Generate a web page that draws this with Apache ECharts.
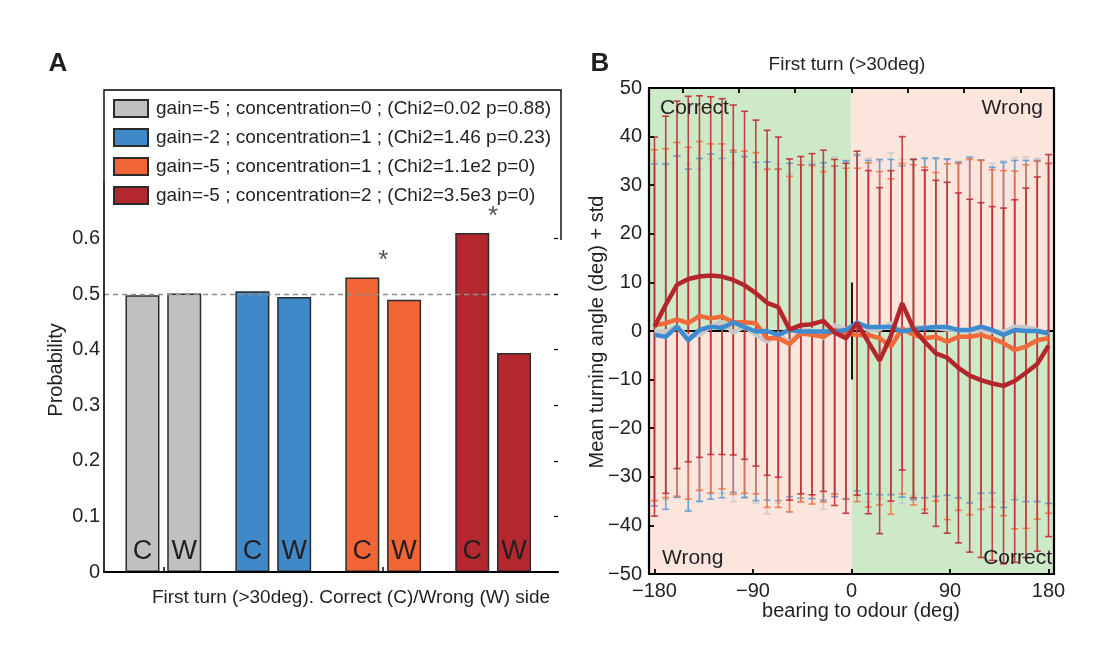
<!DOCTYPE html>
<html>
<head>
<meta charset="utf-8">
<script src="https://cdn.jsdelivr.net/npm/echarts@6/dist/echarts.min.js"></script>
<style>
    html, body { margin: 0; padding: 0; background: #fff; }
    #main { width: 1099px; height: 648px; }
</style>
</head>
<body>
<div id="main"></div>
<script>
// ---------- panel A : probability of first turn to correct / wrong side ----------
var conditions = [
    'gain=-5 ; concentration=0 ; (Chi2=0.02 p=0.88)',
    'gain=-2 ; concentration=1 ; (Chi2=1.46 p=0.23)',
    'gain=-5 ; concentration=1 ; (Chi2=1.1e2 p=0)',
    'gain=-5 ; concentration=2 ; (Chi2=3.5e3 p=0)'
];
var sides = ['C', 'W'];
var probCorrect = [0.498, 0.505, 0.530, 0.610];
var probWrong   = [0.501, 0.495, 0.490, 0.394];
var significant = [false, false, true, true];
var probTicks = [0, 0.1, 0.2, 0.3, 0.4, 0.5, 0.6];

// ---------- panel B : mean turning angle vs bearing ----------
var bearing = [-180, -169.7, -159.4, -149.1, -138.9, -128.6, -118.3, -108, -97.7, -87.4, -77.1, -66.9,
    -56.6, -46.3, -36, -25.7, -15.4, -5.1, 5.1, 15.4, 25.7, 36, 46.3, 56.6,
    66.9, 77.1, 87.4, 97.7, 108, 118.3, 128.6, 138.9, 149.1, 159.4, 169.7, 180];
var bearingTicks = [-180, -90, 0, 90, 180];
var topTicks = [-154.3, -102.9, -51.4, 0, 51.4, 102.9, 154.3];

var grayMean = [0, -0.1, 0.9, -1.2, -0.8, 0.9, 1.9, -0.3, 0.9, -0.8, -2.2, -0.5, -2.5, 0, 0.2, -1.5, 1.2, 0.3,
    1.2, 0.2, 0.3, 1.6, -0.1, 0.9, 0.6, 0.6, 0.3, 0.2, 0, 0.3, -0.1, -0.1, 0.9, 0.8, 0.2, -0.5];
var grayStd = [35.0, 34.6, 35.2, 35.6, 34.1, 34.4, 35.3, 34.8, 35.0, 34.6, 35.4, 34.9, 34.8, 35.0, 34.7, 35.2, 34.6, 34.9,
    34.8, 35.3, 34.7, 35.0, 35.4, 34.6, 35.1, 34.8, 35.0, 34.7, 35.2, 34.9, 34.6, 35.1, 34.8, 35.0, 35.3, 34.9];

var blueMean = [-0.8, -1.2, 0.9, -1.9, 0.2, 0.9, 0.6, 1.8, 0.8, -0.1, 0, -0.8, 0.2, -0.1, -0.1, -0.1, -0.1, 0.2,
    1.7, 0.8, 0.8, 0.8, -0.1, 0.3, 0.6, 0.8, 0.8, 0.2, 0.2, 0.9, 0.2, -0.8, 0.2, 0, 0, -0.5];
var blueStd = [35.2, 35.5, 35.1, 35.2, 35.3, 35.5, 34.9, 35.0, 35.1, 34.8, 34.8, 34.1, 34.3, 34.3, 34.4, 34.7, 34.0, 34.8,
    34.6, 34.3, 34.5, 34.5, 34.1, 35.0, 34.9, 34.8, 34.6, 34.5, 35.6, 34.3, 33.5, 35.5, 34.9, 35.1, 35.1, 35.0];

var orangeMean = [1.2, 1.6, 2.4, 1.6, 3.1, 2.6, 3.0, 1.8, 1.8, 1.6, -1.5, -1.5, -2.7, -0.5, -0.8, -1.2, 0.2, -0.5,
    -0.8, -0.8, -1.5, -3.2, 0.5, -0.8, -1.5, -1.2, -2.2, -1.2, -1.2, -0.8, -1.5, -2.5, -3.9, -3.2, -1.9, -1.5];
var orangeStd = [36.1, 35.9, 36.4, 36.2, 35.9, 35.9, 35.5, 35.4, 35.2, 35.1, 34.8, 34.8, 34.5, 34.7, 34.8, 34.0, 33.8, 34.0,
    34.3, 35.4, 34.3, 34.5, 34.0, 35.0, 35.2, 33.8, 36.6, 35.7, 36.6, 35.9, 34.7, 35.5, 36.8, 37.4, 36.8, 36.0];

var redMean = [0.9, 5.4, 9.5, 10.7, 11.2, 11.4, 11.2, 10.5, 9.4, 7.8, 5.8, 4.9, 0.3, 1.2, 1.4, 2.1, -0.3, -1.5,
    1.6, -2.3, -6.1, -1.0, 5.7, 0.5, -2.2, -4.6, -5.5, -7.6, -9.2, -10.1, -10.8, -11.3, -10.3, -8.6, -6.8, -3.0];
var redStd = [39.0, 38.8, 37.8, 37.6, 37.2, 36.8, 36.6, 36.0, 35.8, 35.6, 35.5, 35.0, 35.1, 34.7, 35.1, 35.1, 35.6, 36.0,
    35.4, 35.3, 35.6, 34.0, 34.3, 34.8, 35.3, 35.6, 36.1, 36.0, 36.3, 36.5, 36.4, 36.6, 37.3, 38.0, 38.5, 39.3];

var barColors  = ['#c0c0c0', '#3f89c9', '#f26536', '#b2282e'];
var lineColors = ['#c8c8c8', '#3f8bcf', '#f2693a', '#b3262c'];
var textColor = '#231f20';
var font = 'Liberation Sans, Arial, Helvetica, sans-serif';

function minusFmt(v){
    return v < 0 ? '\u2212' + Math.abs(v) : String(v);
}

//误差棒 (mean ± std) 自定义绘制
function errorBar(color, opacity){
    return function(params, api){
        var x = api.value(0);
        var lo = api.coord([x, api.value(1)]);
        var hi = api.coord([x, api.value(2)]);
        var half = 3.5;
        var style = { stroke: color, lineWidth: 1.6, opacity: opacity };
        return {
            type: 'group',
            children: [
                { type: 'line', shape: { x1: lo[0], y1: lo[1], x2: hi[0], y2: hi[1] }, style: style },
                { type: 'line', shape: { x1: lo[0] - half, y1: lo[1], x2: lo[0] + half, y2: lo[1] }, style: style },
                { type: 'line', shape: { x1: hi[0] - half, y1: hi[1], x2: hi[0] + half, y2: hi[1] }, style: style }
            ]
        };
    };
}

function pairs(xs, ys){
    var out = [];
    for (var i = 0; i < xs.length; i++) out.push([xs[i], ys[i]]);
    return out;
}
function errPairs(xs, m, s){
    var out = [];
    for (var i = 0; i < xs.length; i++) out.push([xs[i], m[i] - s[i], m[i] + s[i]]);
    return out;
}

var series = [];

//panel A 参考虚线 0.5
series.push({
    type: 'line', xAxisIndex: 0, yAxisIndex: 0, z: 1,
    data: [[1, 0.5]], showSymbol: false, lineStyle: { opacity: 0 },
    markLine: {
        silent: true, symbol: 'none', label: { show: false },
        lineStyle: { color: '#8f8f8f', type: [5, 4], width: 1.3 },
        data: [{ yAxis: 0.5 }]
    }
});

//panel A 柱状图，每个条件两根柱子 (C / W)
for (var k = 0; k < conditions.length; k++){
    series.push({
        name: conditions[k],
        type: 'bar', xAxisIndex: 0, yAxisIndex: 0, z: 2,
        barWidth: 34, barGap: '-100%',
        itemStyle: { color: barColors[k], borderColor: '#2b2b2b', borderWidth: 1.5 },
        label: {
            show: true, position: 'insideBottom', distance: 7,
            formatter: function(p){ return sides[p.dataIndex]; },
            fontSize: 27, color: textColor, fontFamily: font
        },
        data: [[k + 1 - 0.19, probCorrect[k]], [k + 1 + 0.19, probWrong[k]]]
    });
}

//显著性星号
var stars = [];
for (var g = 0; g < significant.length; g++){
    if (significant[g]) stars.push([g + 1, Math.max(probCorrect[g], probWrong[g]) + 0.03]);
}
series.push({
    type: 'scatter', xAxisIndex: 0, yAxisIndex: 0, z: 3,
    symbolSize: 1, itemStyle: { color: 'rgba(0,0,0,0)' },
    label: { show: true, position: 'inside', formatter: '*', fontSize: 26, color: textColor, fontFamily: font },
    data: stars
});

//panel B 背景象限
var green = '#cde9c8', pink = '#fce5dd';
series.push({
    type: 'line', xAxisIndex: 1, yAxisIndex: 2, z: 1,
    data: [[0, 0]], showSymbol: false, lineStyle: { opacity: 0 },
    markArea: {
        silent: true,
        data: [
            [{ xAxis: -185, yAxis: 0, itemStyle: { color: green } }, { xAxis: 0, yAxis: 50 }],
            [{ xAxis: 0, yAxis: 0, itemStyle: { color: pink } }, { xAxis: 185, yAxis: 50 }],
            [{ xAxis: -185, yAxis: -50, itemStyle: { color: pink } }, { xAxis: 0, yAxis: 0 }],
            [{ xAxis: 0, yAxis: -50, itemStyle: { color: green } }, { xAxis: 185, yAxis: 0 }]
        ]
    }
});
series.push({
    type: 'line', xAxisIndex: 1, yAxisIndex: 2, z: 3,
    data: [[0, 0]], showSymbol: false, lineStyle: { opacity: 0 },
    markLine: {
        silent: true, symbol: 'none', label: { show: false },
        lineStyle: { color: '#000', type: 'solid', width: 1.8 },
        data: [
            { yAxis: 0 },
            [{ coord: [0, -10] }, { coord: [0, 10] }]
        ]
    }
});

//误差棒：灰、蓝、橙、红 (红色在最上层)
var errSets = [
    [grayMean, grayStd, '#c4c4c4', 0.75],
    [blueMean, blueStd, lineColors[1], 0.7],
    [orangeMean, orangeStd, lineColors[2], 0.8],
    [redMean, redStd, '#bf2a30', 0.88]
];
for (var e = 0; e < errSets.length; e++){
    series.push({
        type: 'custom', xAxisIndex: 1, yAxisIndex: 2, z: 4 + e,
        renderItem: errorBar(errSets[e][2], errSets[e][3]),
        encode: { x: 0, y: [1, 2] },
        data: errPairs(bearing, errSets[e][0], errSets[e][1])
    });
}

//平均转角曲线
var lineSets = [[grayMean, lineColors[0]], [orangeMean, lineColors[2]], [blueMean, lineColors[1]], [redMean, lineColors[3]]];
for (var l = 0; l < lineSets.length; l++){
    series.push({
        type: 'line', xAxisIndex: 1, yAxisIndex: 2, z: 10 + l,
        showSymbol: false, smooth: false,
        lineStyle: { color: lineSets[l][1], width: 4.5 },
        data: pairs(bearing, lineSets[l][0])
    });
}

function txt(x, y, s, size, opts){
    var o = {
        type: 'text', x: x, y: y, z: 100,
        style: { text: s, font: (opts && opts.bold ? 'bold ' : '') + size + 'px ' + font, fill: textColor,
            textAlign: (opts && opts.align) || 'center', textVerticalAlign: 'middle' }
    };
    if (opts && opts.rotate) o.rotation = opts.rotate;
    return o;
}

var option = {
    animation: false,
    backgroundColor: '#fff',
    textStyle: { fontFamily: font },
    legend: {
        data: conditions,
        orient: 'vertical', left: 113, top: 99, z: 50,
        itemWidth: 34, itemHeight: 17, itemGap: 10, padding: 0,
        icon: 'rect',
        textStyle: { fontSize: 19, color: textColor, fontFamily: font, lineHeight: 19, padding: [0, 0, 0, 3] },
        selectedMode: false
    },
    grid: [
        { left: 104, top: 183, width: 454, height: 389, outerBoundsMode: 'none' },
        { left: 649, top: 88, width: 405, height: 486, outerBoundsMode: 'none' }
    ],
    xAxis: [
        {
            gridIndex: 0, type: 'value', min: 0.46, max: 4.59, z: 10,
            axisLine: { show: true, lineStyle: { color: '#000', width: 2.2 } },
            axisTick: { show: true, inside: true, length: 5, customValues: [1, 3], lineStyle: { color: '#000', width: 1.5 } },
            axisLabel: { show: false },
            splitLine: { show: false }
        },
        {
            gridIndex: 1, type: 'value', min: -185, max: 185, position: 'bottom', z: 10,
            axisLine: { show: true, onZero: false, lineStyle: { color: '#000', width: 2.2 } },
            axisTick: { show: true, inside: true, length: 5, customValues: bearingTicks, lineStyle: { color: '#000', width: 1.8 } },
            axisLabel: { show: true, customValues: bearingTicks, formatter: minusFmt, fontSize: 20, color: textColor, fontFamily: font, margin: 7 },
            splitLine: { show: false }
        },
        {
            gridIndex: 1, type: 'value', min: -185, max: 185, position: 'top', z: 10,
            axisLine: { show: true, onZero: false, lineStyle: { color: '#000', width: 2.2 } },
            axisTick: { show: true, inside: true, length: 5, customValues: topTicks, lineStyle: { color: '#000', width: 1.8 } },
            axisLabel: { show: false },
            splitLine: { show: false }
        }
    ],
    yAxis: [
        {
            gridIndex: 0, type: 'value', min: 0, max: 0.7, z: 10,
            axisLine: { show: true, lineStyle: { color: '#000', width: 1.6 } },
            axisTick: { show: false },
            axisLabel: {
                show: true, customValues: probTicks, fontSize: 20, color: textColor, fontFamily: font, margin: 4,
                formatter: function(v){ return v === 0 ? '0' : v.toFixed(1); }
            },
            splitLine: { show: false }
        },
        {
            gridIndex: 0, type: 'value', min: 0, max: 0.7, position: 'right', z: 10,
            axisLine: { show: false },
            axisTick: { show: true, inside: true, length: 4, customValues: probTicks, lineStyle: { color: '#000', width: 1.2 } },
            axisLabel: { show: false },
            splitLine: { show: false }
        },
        {
            gridIndex: 1, type: 'value', min: -50, max: 50, interval: 10, z: 10,
            axisLine: { show: true, onZero: false, lineStyle: { color: '#000', width: 2.2 } },
            axisTick: { show: true, inside: true, length: 5, lineStyle: { color: '#000', width: 1.8 } },
            axisLabel: { show: true, formatter: minusFmt, fontSize: 20, color: textColor, fontFamily: font, margin: 7 },
            splitLine: { show: false }
        },
        {
            gridIndex: 1, type: 'value', min: -50, max: 50, interval: 10, position: 'right', z: 10,
            axisLine: { show: true, onZero: false, lineStyle: { color: '#000', width: 2.2 } },
            axisTick: { show: false },
            axisLabel: { show: false },
            splitLine: { show: false }
        }
    ],
    graphic: [
        //图例外框
        {
            type: 'polyline', z: 100,
            shape: { points: [[104, 183], [104, 90], [561, 90], [561, 240]] },
            style: { stroke: '#000', lineWidth: 1.4, fill: null }
        },
        txt(58, 64, 'A', 26, { bold: true }),
        txt(600, 64, 'B', 26, { bold: true }),
        txt(847, 65, 'First turn (>30deg)', 19),
        txt(56, 370, 'Probability', 20, { rotate: Math.PI / 2 }),
        txt(351, 598, 'First turn (>30deg). Correct (C)/Wrong (W) side', 19),
        txt(597, 332, 'Mean turning angle (deg) + std', 20, { rotate: Math.PI / 2 }),
        txt(861, 611, 'bearing to odour (deg)', 20),
        txt(660, 108, 'Correct', 21, { align: 'left' }),
        txt(1043, 108, 'Wrong', 21, { align: 'right' }),
        txt(662, 558, 'Wrong', 21, { align: 'left' }),
        txt(1052, 558, 'Correct', 21, { align: 'right' })
    ],
    series: series
};

var chart = echarts.init(document.getElementById('main'));
chart.setOption(option);
</script>
</body>
</html>
